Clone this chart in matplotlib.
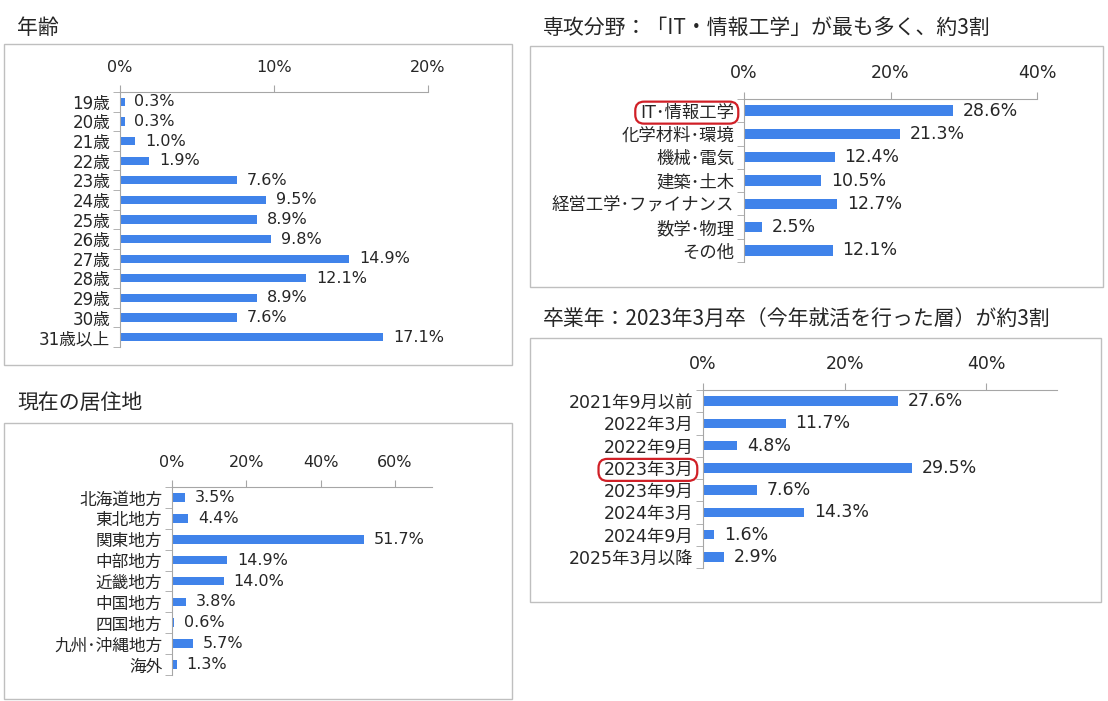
import matplotlib
matplotlib.use('Agg')
import matplotlib.pyplot as plt
from matplotlib.patches import Rectangle, FancyBboxPatch
from matplotlib.ticker import FixedLocator

plt.rcParams['font.family'] = ['DejaVu Sans', 'Noto Sans CJK JP']

# --- data ---
age_labels = ['19歳', '20歳', '21歳', '22歳', '23歳', '24歳', '25歳', '26歳',
              '27歳', '28歳', '29歳', '30歳', '31歳以上']
age_values = [0.3, 0.3, 1.0, 1.9, 7.6, 9.5, 8.9, 9.8, 14.9, 12.1, 8.9, 7.6, 17.1]

major_labels = ['IT･情報工学', '化学材料･環境', '機械･電気', '建築･土木',
                '経営工学･ファイナンス', '数学･物理', 'その他']
major_values = [28.6, 21.3, 12.4, 10.5, 12.7, 2.5, 12.1]

region_labels = ['北海道地方', '東北地方', '関東地方', '中部地方', '近畿地方',
                 '中国地方', '四国地方', '九州･沖縄地方', '海外']
region_values = [3.5, 4.4, 51.7, 14.9, 14.0, 3.8, 0.6, 5.7, 1.3]

grad_labels = ['2021年9月以前', '2022年3月', '2022年9月', '2023年3月',
               '2023年9月', '2024年3月', '2024年9月', '2025年3月以降']
grad_values = [27.6, 11.7, 4.8, 29.5, 7.6, 14.3, 1.6, 2.9]

W, H = 1108, 701
fig = plt.figure(figsize=(W / 100, H / 100), dpi=100)

BLUE = '#4083EA'
GRAY = '#A6A6A6'
TXT = '#262626'


def px_axes(l, r, t, b):
    return fig.add_axes([l / W, 1 - b / H, (r - l) / W, (b - t) / H])


def box(l, t, r, b):
    fig.patches.append(Rectangle((l / W, 1 - b / H), (r - l) / W, (b - t) / H,
                                 transform=fig.transFigure, fill=False,
                                 edgecolor='#BFBFBF', lw=1.0))


def title(x, y, s):
    fig.text(x / W, 1 - y / H, s, fontsize=15, family=['Noto Sans CJK JP', 'DejaVu Sans'],
             color=TXT, va='center', ha='left')


def bar_panel(ax, labels, values, xmax, ticks, height, fs, lfs):
    n = len(labels)
    ax.barh(range(n), values, height=height, color=BLUE)
    ax.set_ylim(n - 0.5, -0.5)
    ax.set_xlim(0, xmax)
    ax.xaxis.tick_top()
    ax.set_xticks(ticks)
    ax.set_xticklabels([f'{v}%' for v in ticks])
    ax.tick_params(axis='x', length=5, color=GRAY, pad=7, labelsize=fs, labelcolor=TXT)
    ax.set_yticks(range(n))
    ax.set_yticklabels(labels)
    ax.tick_params(axis='y', which='major', length=0, pad=7, labelsize=lfs, labelcolor=TXT)
    ax.yaxis.set_minor_locator(FixedLocator([i + 0.5 for i in range(-1, n)]))
    ax.tick_params(axis='y', which='minor', length=5, color=GRAY)
    for s in ['right', 'bottom']:
        ax.spines[s].set_visible(False)
    for s in ['top', 'left']:
        ax.spines[s].set_color(GRAY)
    for i, v in enumerate(values):
        ax.annotate(f'{v:.1f}%', (v, i), xytext=(7, 0), textcoords='offset points',
                    va='center', ha='left', fontsize=fs, color=TXT)


# boxes
box(4, 44, 512, 365)
box(530, 46, 1103, 287)
box(4, 423, 512, 699)
box(530, 338, 1101, 602)

title(17, 28, '年齢')
title(543, 28, '専攻分野：「IT・情報工学」が最も多く、約3割')
title(17, 403, '現在の居住地')
title(543, 319, '卒業年：2023年3月卒（今年就活を行った層）が約3割')

ax1 = px_axes(120, 428, 92, 347)
bar_panel(ax1, age_labels, age_values, 20, [0, 10, 20], 0.42, 11.5, 12)

ax2 = px_axes(744, 1037, 99, 262)
bar_panel(ax2, major_labels, major_values, 40, [0, 20, 40], 0.45, 12.5, 12.5)

ax3 = px_axes(172, 432, 487, 675)
bar_panel(ax3, region_labels, region_values, 70, [0, 20, 40, 60], 0.42, 11.5, 12)

ax4 = px_axes(703, 1057, 390, 568)
bar_panel(ax4, grad_labels, grad_values, 50, [0, 20, 40], 0.42, 12.5, 12.5)

# red rounded boxes around highlighted labels
fig.canvas.draw()
renderer = fig.canvas.get_renderer()
for ax, idx in [(ax2, 0), (ax4, 3)]:
    bb = ax.get_yticklabels()[idx].get_window_extent(renderer)
    x0, y0 = bb.x0 - 5, bb.y0 - 2
    w, h = bb.width + 9, bb.height + 4
    fig.patches.append(FancyBboxPatch((x0 / W, y0 / H), w / W, h / H,
                                      boxstyle='round,pad=0,rounding_size=0.008',
                                      transform=fig.transFigure, fill=False,
                                      edgecolor='#D01F26', lw=1.6,
                                      mutation_aspect=W / H))

fig.savefig('out.png', dpi=100)
